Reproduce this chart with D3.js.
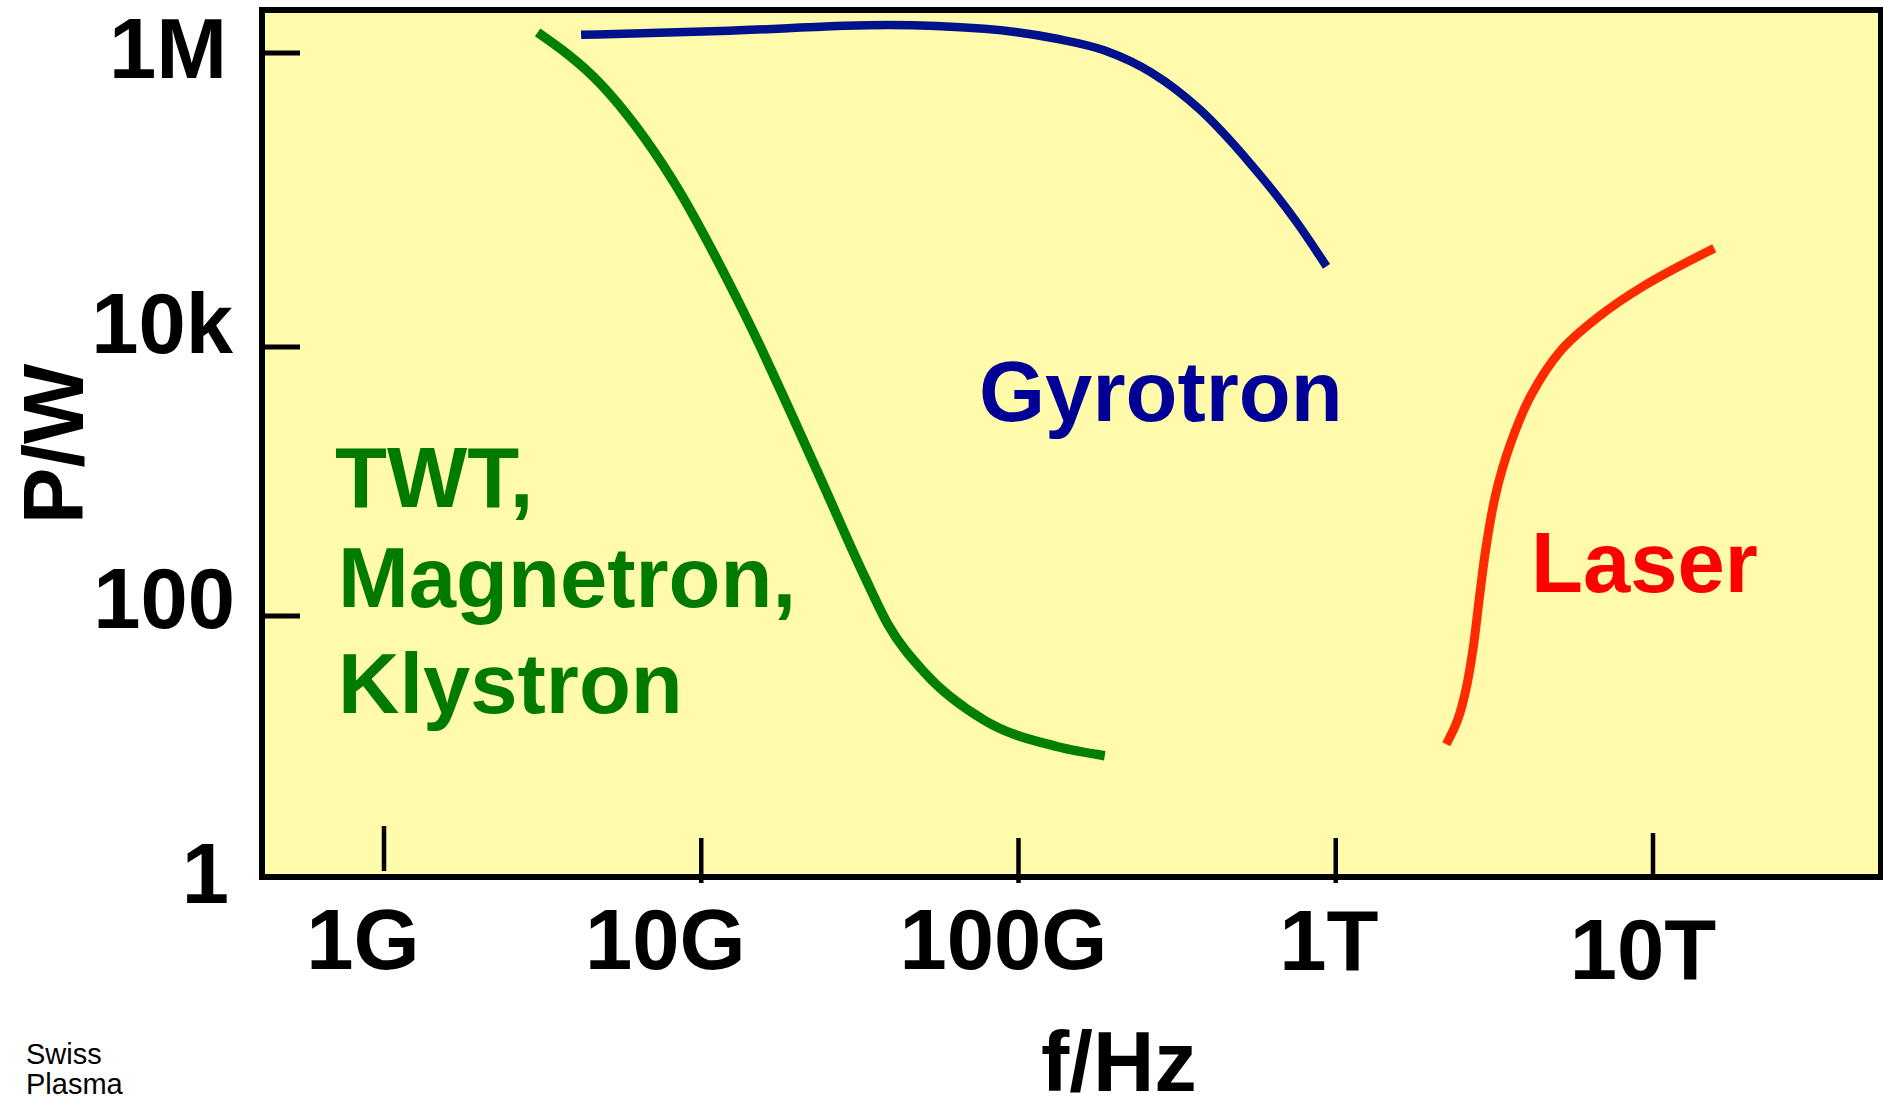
<!DOCTYPE html>
<html><head><meta charset="utf-8">
<script src="https://cdn.jsdelivr.net/npm/d3@7"></script>
<style>html,body{margin:0;padding:0;background:#fff;overflow:hidden}</style>
</head><body><svg id="chart" width="1883" height="1097"></svg>
<script>
// ---- data ----
const xTickValues = [1e9, 1e10, 1e11, 1e12, 1e13];
const xTickLabels = ["1G", "10G", "100G", "1T", "10T"];
const yTickValues = [1, 100, 1e4, 1e6];
const yTickLabels = ["1", "100", "10k", "1M"];

const twtFreq  = [3.05e9, 4.8e9, 8.1e9, 1.36e10, 2.3e10, 3.27e10, 3.88e10, 5.05e10, 7.8e10, 1.32e11, 1.87e11];
const twtPower = [1.38e6, 6.2e5, 1.38e5, 1.73e4, 1250, 197, 86, 37, 15.9, 10, 8.5];

const gyroFreq  = [4.18e9, 1.15e10, 3.88e10, 7.8e10, 1.32e11, 1.87e11, 2.64e11, 3.74e11, 5.31e11, 7.52e11, 9.35e11];
const gyroPower = [1.33e6, 1.41e6, 1.55e6, 1.46e6, 1.25e6, 1.04e6, 7.3e5, 4.1e5, 1.83e5, 7.1e4, 3.54e4];

const laserFreq  = [2.23e12, 2.42e12, 2.57e12, 2.71e12, 2.83e12, 2.98e12, 3.19e12, 3.55e12, 4.11e12, 5.12e12, 6.64e12, 9.4e12, 1.56e13];
const laserPower = [10.4, 15.9, 27, 56.5, 131, 330, 798, 1890, 4300, 9400, 1.57e4, 2.62e4, 4.7e4];

const seriesNames = ["TWT", "Gyrotron", "Laser"];

// ---- layout / style ----
const frame = {x: 262, y: 10, w: 1619, h: 867};
const FONT = "'Liberation Sans', Arial, Helvetica, sans-serif";
const xLabelNudge = [-21, -36, -15, -7, -10];
const xLabelBase  = [969, 969, 969, 970, 979];
const xTickSpan   = [[826, 871], [838, 883], [838, 883], [838, 883], [833, 875]];
const yLabelNudge = [26, 12, 6, 25];
const yLabelDx    = [-4, 2, 0, -6];

const svg = d3.select("#chart");

const x = d3.scaleLog().domain([1e9, 1e13]).range([384, 1653]);
const y = d3.scaleLog().domain([1, 100, 1e4, 1e6]).range([877, 616, 347, 53]);

// plot frame
svg.append("rect")
  .attr("x", frame.x).attr("y", frame.y).attr("width", frame.w).attr("height", frame.h)
  .attr("fill", "#FFFBAA").attr("stroke", "#000").attr("stroke-width", 6);

// x ticks
svg.append("g").selectAll("line").data(xTickValues).join("line")
  .attr("x1", d => x(d)).attr("x2", d => x(d))
  .attr("y1", (d, i) => xTickSpan[i][0]).attr("y2", (d, i) => xTickSpan[i][1])
  .attr("stroke", "#000").attr("stroke-width", 4.5);

svg.append("g").selectAll("text").data(xTickValues).join("text")
  .attr("x", (d, i) => x(d) + xLabelNudge[i])
  .attr("y", (d, i) => xLabelBase[i])
  .attr("text-anchor", "middle")
  .style("font-family", FONT).style("font-weight", "bold").style("font-size", "85px")
  .text((d, i) => xTickLabels[i]);

// y ticks (the bottom value sits on the frame)
svg.append("g").selectAll("line").data(yTickValues.slice(1)).join("line")
  .attr("x1", 265).attr("x2", 300)
  .attr("y1", d => y(d)).attr("y2", d => y(d))
  .attr("stroke", "#000").attr("stroke-width", 5);

svg.append("g").selectAll("text").data(yTickValues).join("text")
  .attr("x", (d, i) => 233 + yLabelDx[i])
  .attr("y", (d, i) => y(d) + yLabelNudge[i])
  .attr("text-anchor", "end")
  .style("font-family", FONT).style("font-weight", "bold").style("font-size", "85px")
  .text((d, i) => yTickLabels[i]);

// axis titles
svg.append("text").attr("x", 1041).attr("y", 1091)
  .style("font-family", FONT).style("font-weight", "bold").style("font-size", "85px")
  .text("f/Hz");
svg.append("text").attr("transform", "translate(83,444) rotate(-90)")
  .attr("text-anchor", "middle")
  .style("font-family", FONT).style("font-weight", "bold").style("font-size", "85px")
  .text("P/W");

// curves
const lineM = d3.line().x(d => x(d[0])).y(d => y(d[1])).curve(d3.curveMonotoneX);
const lineC = d3.line().x(d => x(d[0])).y(d => y(d[1])).curve(d3.curveCatmullRom.alpha(0.5));
const series = [
  {name: seriesNames[0], pts: d3.zip(twtFreq, twtPower), color: "#008000", width: 9.5, gen: lineM},
  {name: seriesNames[1], pts: d3.zip(gyroFreq, gyroPower), color: "#00118C", width: 8.5, gen: lineM},
  {name: seriesNames[2], pts: d3.zip(laserFreq, laserPower), color: "#FF2A00", width: 9, gen: lineC}
];
svg.append("g").selectAll("path").data(series).join("path")
  .attr("d", d => d.gen(d.pts))
  .attr("fill", "none").attr("stroke", d => d.color).attr("stroke-width", d => d.width)
  .attr("stroke-linecap", "butt");

// labels in the plot
const lab = (txt, xx, yy, col) => svg.append("text").attr("x", xx).attr("y", yy)
  .attr("fill", col)
  .style("font-family", FONT).style("font-weight", "bold").style("font-size", "85px")
  .text(txt);
lab("TWT,", 335, 507, "#007A00");
lab("Magnetron,", 338, 607, "#007A00");
lab("Klystron", 338, 713, "#007A00");
lab("Gyrotron", 979, 421, "#000096");
lab("Laser", 1531, 592, "#FF0000");

// credit
svg.append("text").attr("x", 26).attr("y", 1064)
  .style("font-family", FONT).style("font-size", "29px").text("Swiss");
svg.append("text").attr("x", 26).attr("y", 1094)
  .style("font-family", FONT).style("font-size", "29px").text("Plasma");
</script>
</body></html>
